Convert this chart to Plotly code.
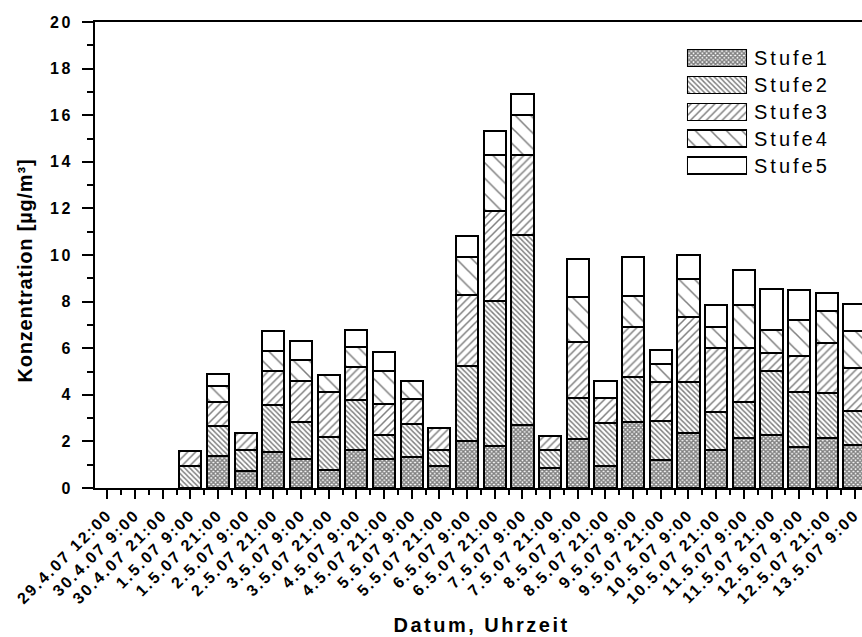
import plotly.graph_objects as go

# Sampling dates / times
labels = ["29.4.07 12:00", "30.4.07 9:00", "30.4.07 21:00", "1.5.07 9:00", "1.5.07 21:00",
          "2.5.07 9:00", "2.5.07 21:00", "3.5.07 9:00", "3.5.07 21:00", "4.5.07 9:00",
          "4.5.07 21:00", "5.5.07 9:00", "5.5.07 21:00", "6.5.07 9:00", "6.5.07 21:00",
          "7.5.07 9:00", "7.5.07 21:00", "8.5.07 9:00", "8.5.07 21:00", "9.5.07 9:00",
          "9.5.07 21:00", "10.5.07 9:00", "10.5.07 21:00", "11.5.07 9:00", "11.5.07 21:00",
          "12.5.07 9:00", "12.5.07 21:00", "13.5.07 9:00"]

# Concentration per impactor stage in µg/m³ (None = no contribution)
stufe1 = [None, None, None, None, 1.38, 0.73, 1.56, 1.26, 0.76, 1.61, 1.25, 1.32, 0.93, 2.01,
          1.80, 2.72, 0.86, 2.10, 0.96, 2.84, 1.22, 2.38, 1.61, 2.16, 2.26, 1.76, 2.16, 1.86]
stufe2 = [None, None, None, 0.95, 1.30, 0.92, 1.99, 1.58, 1.43, 2.17, 1.03, 1.42, 0.69, 3.22,
          6.23, 8.14, 0.76, 1.75, 1.85, 1.93, 1.66, 2.15, 1.67, 1.53, 2.77, 2.34, 1.91, 1.45]
stufe3 = [None, None, None, 0.64, 1.01, 0.71, 1.48, 1.74, 1.92, 1.42, 1.32, 1.09, 0.97, 3.06,
          3.87, 3.42, 0.63, 2.41, 1.07, 2.15, 1.69, 2.80, 2.75, 2.31, 0.77, 1.56, 2.14, 1.83]
stufe4 = [None, None, None, None, 0.69, None, 0.86, 0.93, 0.74, 0.86, 1.44, 0.75, None, 1.63,
          2.39, 1.72, None, 1.92, None, 1.30, 0.74, 1.62, 0.90, 1.85, 1.00, 1.53, 1.39, 1.58]
stufe5 = [None, None, None, None, 0.50, None, 0.84, 0.80, None, 0.73, 0.78, None, None, 0.91,
          1.02, 0.92, None, 1.66, 0.70, 1.70, 0.63, 1.03, 0.92, 1.52, 1.75, 1.29, 0.79, 1.18]

series_names = ["Stufe1", "Stufe2", "Stufe3", "Stufe4", "Stufe5"]
series_values = [stufe1, stufe2, stufe3, stufe4, stufe5]

# Hatch styles, one per stage
patterns = [
    dict(shape="x", size=3.1, solidity=0.7),
    dict(shape="\\", size=3.6, solidity=0.4),
    dict(shape="/", size=5.6, solidity=0.27),
    dict(shape="\\", size=11, solidity=0.14),
    dict(shape=""),
]

FONT = "Liberation Sans, Arial, sans-serif"
positions = list(range(len(labels)))

fig = go.Figure()

for name, vals, pat in zip(series_names, series_values, patterns):
    fig.add_trace(go.Bar(
        x=positions, y=vals, name=name, width=0.8,
        marker=dict(color="white", line=dict(color="black", width=2),
                    pattern=dict(fgcolor="black", bgcolor="white", **pat)),
        showlegend=False, hoverinfo="skip",
    ))

# Legend drawn as a small horizontal bar panel with its own axes
for name, pat in zip(series_names, patterns):
    fig.add_trace(go.Bar(
        x=[1], y=[name], base=0, orientation="h", width=0.63,
        xaxis="x2", yaxis="y2",
        marker=dict(color="white", line=dict(color="black", width=1.5),
                    pattern=dict(fgcolor="black", bgcolor="white", **pat)),
        showlegend=False, hoverinfo="skip",
    ))

minor_x = [p + 0.5 for p in positions[:-1]]

fig.update_layout(
    width=862, height=637, autosize=False,
    margin=dict(l=95, r=0, t=22, b=149.3),
    paper_bgcolor="white", plot_bgcolor="white",
    barmode="stack",
    showlegend=False,
    font=dict(family=FONT, color="black"),
    xaxis=dict(
        range=[-0.445, 27.27],
        tickmode="array", tickvals=positions, ticktext=labels,
        tickangle=-45, ticklabeloverflow="allow",
        tickfont=dict(family=FONT, size=16, weight="bold"),
        ticks="outside", ticklen=9, tickwidth=2, tickcolor="black",
        minor=dict(tickmode="array", tickvals=minor_x, ticks="outside",
                   ticklen=5, tickwidth=2, tickcolor="black"),
        showline=True, linewidth=2, linecolor="black", mirror=True,
        showgrid=False, zeroline=False,
    ),
    yaxis=dict(
        range=[0, 20], tick0=0, dtick=2,
        tickfont=dict(family=FONT, size=16, weight="bold"),
        ticks="outside", ticklen=11, tickwidth=2, tickcolor="black",
        ticklabelstandoff=6,
        minor=dict(dtick=1, ticks="outside", ticklen=6, tickwidth=2, tickcolor="black"),
        showline=True, linewidth=2, linecolor="black",
        showgrid=False, zeroline=False,
    ),
    xaxis2=dict(domain=[0.7718, 0.8501], anchor="y2", range=[0, 1],
                visible=False, fixedrange=True),
    yaxis2=dict(domain=[0.663, 0.9516], anchor="x2", side="right",
                type="category", categoryorder="array",
                categoryarray=series_names[::-1], range=[-0.5, 4.5],
                showline=False, showgrid=False, zeroline=False, ticks="",
                ticklabelstandoff=6,
                tickfont=dict(family=FONT, size=20), fixedrange=True),
    annotations=[
        dict(text="Konzentration [µg/m³]", xref="paper", yref="paper",
             x=-0.0913, y=0.4675, xanchor="center", yanchor="middle",
             textangle=-90, showarrow=False,
             font=dict(family=FONT, size=20, weight="bold")),
        dict(text="Datum, Uhrzeit", xref="paper", yref="paper",
             x=0.504, y=-0.2948, xanchor="center", yanchor="middle",
             showarrow=False,
             font=dict(family=FONT, size=20, weight="bold")),
    ],
)

spacing_css = (
    ".xtick text{letter-spacing:2.1px}"
    ".ytick text{letter-spacing:2.5px}"
    ".y2tick text{letter-spacing:3px}"
    ".annotation[data-index='0'] text{letter-spacing:0.8px}"
    ".annotation[data-index='1'] text{letter-spacing:2.5px}"
)
post = ("var s=document.createElement('style');s.textContent=\"" + spacing_css +
        "\";document.head.appendChild(s);")

fig.write_html("out.html", config={"displayModeBar": False}, post_script=post)
